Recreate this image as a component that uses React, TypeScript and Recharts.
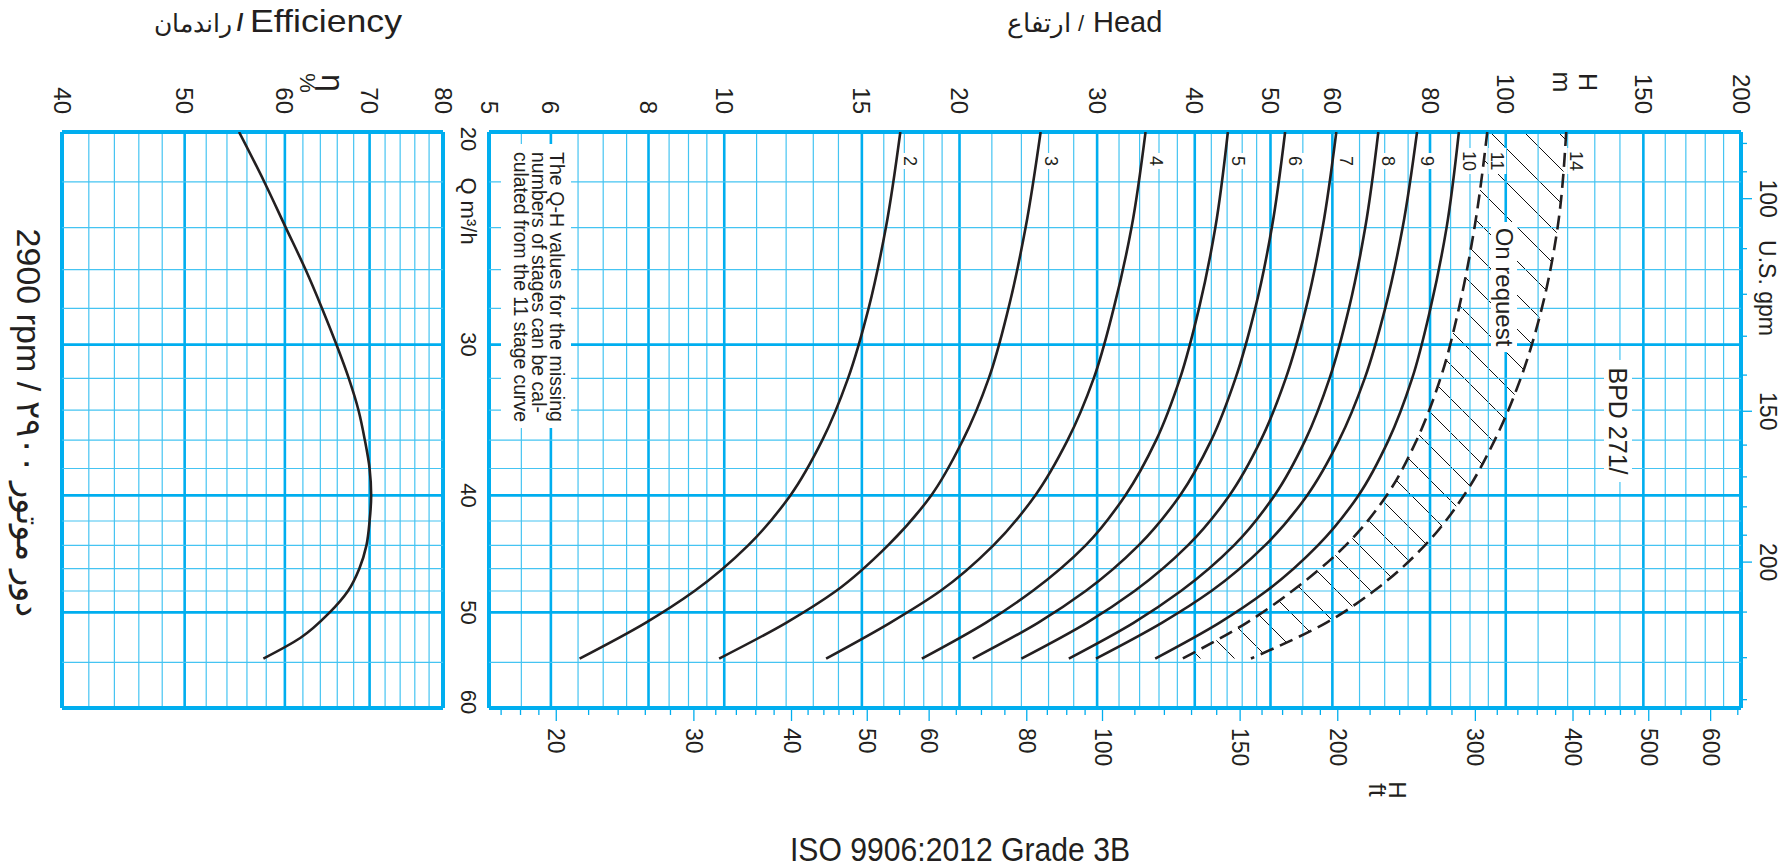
import React from 'react'
import { ComposedChart, Line, Area, XAxis, YAxis, ReferenceLine, LabelList } from 'recharts'

// Q in m3/h, read down the vertical (log) axis
const qPoints = [20, 24, 28, 32, 36, 40, 44, 48, 51, 54.6]

// head in m per number of stages at qPoints
const stage2 = [16.8, 16.1, 15.3, 14.4, 13.35, 12.15, 10.73, 9.16, 7.93, 6.53]
const stage3 = [25.4, 24.3, 23.1, 21.8, 20.2, 18.4, 16.2, 13.9, 12.0, 9.85]
const stage4 = [34.6, 33.2, 31.5, 29.7, 27.5, 25.0, 22.1, 18.9, 16.3, 13.5]
const stage5 = [44.1, 42.5, 40.5, 38.3, 35.7, 32.6, 29.0, 24.8, 21.6, 17.9]
const stage6 = [52.2, 50.2, 47.8, 45.1, 42.0, 38.3, 33.9, 29.0, 25.2, 20.8]
const stage7 = [60.7, 58.3, 55.5, 52.3, 48.6, 44.3, 39.2, 33.5, 29.1, 24.0]
const stage8 = [68.7, 66.1, 63.0, 59.5, 55.4, 50.6, 44.9, 38.4, 33.4, 27.6]
const stage9 = [77.0, 73.8, 70.1, 66.0, 61.2, 55.7, 49.2, 42.0, 36.3, 29.9]
const stage10 = [87.1, 84.0, 80.1, 75.9, 70.8, 64.8, 57.5, 49.4, 43.0, 35.6]
const stage11 = [94.7, 91.2, 87.1, 82.5, 76.9, 70.4, 62.4, 53.3, 46.6, 38.6]
const stage14 = [119.5, 116.5, 111.2, 104.5, 96.8, 88.4, 78.8, 67.8, 58.9, 47.2]

// efficiency curve
const effQ = [20, 22, 24, 26, 28, 30, 32, 34, 36, 38, 40, 42, 44, 46, 48, 50, 52.5, 54.6]
const effValues = [55.2, 57.8, 60.1, 62.3, 64.2, 65.9, 67.4, 68.6, 69.4, 70.0, 70.2, 70.0, 69.6, 68.7, 67.3, 65.1, 61.7, 57.7]

// axes and grid
const headTicks = [5, 6, 8, 10, 15, 20, 30, 40, 50, 60, 80, 100, 150, 200]
const headMajor = [6, 8, 10, 15, 20, 30, 40, 50, 60, 80, 100, 150]
const headMinor = [5.5, 6.5, 7, 7.5, 8.5, 9, 9.5, 11, 12, 13, 14, 16, 17, 18, 19, 22, 24, 26, 28, 32, 34, 36, 38, 42, 44, 46, 48, 55, 65, 70, 75, 85, 90, 95, 110, 120, 130, 140, 160, 170, 180, 190]
const qTicks = [20, 30, 40, 50, 60]
const qMajor = [30, 40, 50]
const qMinor = [22, 24, 26, 28, 32, 34, 36, 38, 42, 44, 46, 48, 55]
const effTicks = [40, 50, 60, 70, 80]
const effMajor = [50, 60, 70]
const effMinor = [42, 44, 46, 48, 52, 54, 56, 58, 62, 64, 66, 68, 72, 74, 76, 78]
const ftLabels = [20, 30, 40, 50, 60, 80, 100, 150, 200, 300, 400, 500, 600]
const ftMinor = [17, 18, 19, 22, 24, 26, 28, 32, 34, 36, 38, 42, 44, 46, 48, 55, 65, 70, 75, 85, 90, 95, 110, 120, 130, 140, 160, 170, 180, 190, 220, 240, 260, 280, 320, 340, 360, 380, 420, 440, 460, 480, 550, 650]
const gpmLabels = [100, 150, 200]
const gpmMinor = [90, 95, 110, 120, 130, 140, 160, 170, 180, 190, 220, 240, 260]

const M_TO_FT = 3.28084
const M3H_TO_GPM = 4.40287

const INK = '#231f20'
const CYAN = '#00aeef'
const CYAN_LIGHT = '#45c4f2'
const FONT = '"Liberation Sans", Arial, Helvetica, sans-serif'

const stages = [
  { key: 's2', name: '2', values: stage2, dashed: false },
  { key: 's3', name: '3', values: stage3, dashed: false },
  { key: 's4', name: '4', values: stage4, dashed: false },
  { key: 's5', name: '5', values: stage5, dashed: false },
  { key: 's6', name: '6', values: stage6, dashed: false },
  { key: 's7', name: '7', values: stage7, dashed: false },
  { key: 's8', name: '8', values: stage8, dashed: false },
  { key: 's9', name: '9', values: stage9, dashed: false },
  { key: 's10', name: '10', values: stage10, dashed: false },
  { key: 's11', name: '11', values: stage11, dashed: true },
  { key: 's14', name: '14', values: stage14, dashed: true },
]

const headRows = qPoints.map((q, i) => {
  const row: any = { q, gpm: q * M3H_TO_GPM, band: [stage11[i], stage14[i]] }
  stages.forEach(s => { row[s.key] = s.values[i] })
  return row
})
const effRows = effQ.map((q, i) => ({ q, eff: effValues[i] }))

const rot = (x: number, y: number) => `translate(${x},${y}) rotate(90)`

const TopTick = ({ x, y, payload }: any) => (
  <text transform={rot(x, y)} textAnchor="end" dominantBaseline="central" fontSize={24} fontFamily={FONT} fill={INK}>
    {payload.value}
  </text>
)

const QTick = ({ x, y, payload }: any) => {
  const dy = payload.value === 20 ? 7 : payload.value === 60 ? -6 : 0
  return (
    <text transform={rot(x, y + dy)} textAnchor="middle" dominantBaseline="central" fontSize={22} fontFamily={FONT} fill={INK}>
      {payload.value}
    </text>
  )
}

const FtTick = ({ x, y, payload }: any) => {
  const major = ftLabels.includes(payload.value)
  return (
    <g>
      <line x1={x} x2={x} y1={y} y2={y + (major ? 13 : 7)} stroke={CYAN} strokeWidth={1.3} />
      {major && (
        <text transform={rot(x, y + 20)} textAnchor="start" dominantBaseline="central" fontSize={23} fontFamily={FONT} fill={INK}>
          {payload.value}
        </text>
      )}
    </g>
  )
}

const GpmTick = ({ x, y, payload }: any) => {
  const major = gpmLabels.includes(payload.value)
  return (
    <g>
      <line x1={x} x2={x + (major ? 11 : 6)} y1={y} y2={y} stroke={CYAN} strokeWidth={1.3} />
      {major && (
        <text transform={rot(x + 27, y)} textAnchor="middle" dominantBaseline="central" fontSize={23} fontFamily={FONT} fill={INK}>
          {payload.value}
        </text>
      )}
    </g>
  )
}

const stageLabel = (name: string) => (props: any) => {
  if (props.index !== 0) return null
  const x = Number(props.x) + 10
  const y = Number(props.y) + 29
  const len = 10 * name.length
  return (
    <g>
      <rect x={x - 9} y={y - len / 2 - 3} width={18} height={len + 6} fill="#fff" />
      <text transform={rot(x, y)} textAnchor="middle" dominantBaseline="central" fontSize={18} fontFamily={FONT} fill={INK}>
        {name}
      </text>
    </g>
  )
}

const gridX = (minor: number[], major: number[], ends: number[]) => [
  ...minor.map(v => <ReferenceLine key={'xm' + v} x={v} stroke={CYAN_LIGHT} strokeWidth={1.2} />),
  ...major.map(v => <ReferenceLine key={'xM' + v} x={v} stroke={CYAN} strokeWidth={2.6} />),
  ...ends.map(v => <ReferenceLine key={'xE' + v} x={v} stroke={CYAN} strokeWidth={4} />),
]
const gridY = [
  ...qMinor.map(v => <ReferenceLine key={'ym' + v} y={v} stroke={CYAN_LIGHT} strokeWidth={1.2} />),
  ...qMajor.map(v => <ReferenceLine key={'yM' + v} y={v} stroke={CYAN} strokeWidth={2.6} />),
  ...[20, 60].map(v => <ReferenceLine key={'yE' + v} y={v} stroke={CYAN} strokeWidth={4} />),
]

const rtext = (x: number, y: number, s: string, size: number, anchor = 'middle', len?: number) => (
  <text transform={rot(x, y)} textAnchor={anchor} dominantBaseline="central" fontSize={size} fontFamily={FONT} fill={INK}
    textLength={len} lengthAdjust={len ? 'spacingAndGlyphs' : undefined}>
    {s}
  </text>
)

export default function App() {
  return (
    <div style={{ position: 'absolute', left: 0, top: 0, width: 1790, height: 868, background: '#fff', overflow: 'hidden' }}>
      <svg width={0} height={0} style={{ position: 'absolute' }}>
        <defs>
          <pattern id="hatch" patternUnits="userSpaceOnUse" width={34} height={34}>
            <path d="M0,0 L34,34 M-17,17 L17,51 M17,-17 L51,17" stroke="#111" strokeWidth={1} />
          </pattern>
        </defs>
      </svg>

      {/* efficiency panel */}
      <div style={{ position: 'absolute', left: 0, top: 0 }}>
        <ComposedChart width={460} height={868} data={effRows} layout="vertical" margin={{ top: 92, right: 17, bottom: 160, left: 62 }}>
          <XAxis type="number" scale="log" domain={[40, 80]} allowDataOverflow orientation="top" ticks={effTicks} interval={0}
            tick={<TopTick />} tickLine={false} axisLine={false} tickSize={0} tickMargin={18} height={40} />
          <YAxis type="number" dataKey="q" scale="log" domain={[20, 60]} allowDataOverflow hide width={0} />
          {gridX(effMinor, effMajor, [40, 80])}
          {gridY}
          <Line dataKey="eff" type="monotone" stroke={INK} strokeWidth={2.6} dot={false} activeDot={false} isAnimationActive={false} />
        </ComposedChart>
      </div>

      {/* Q-H panel */}
      <div style={{ position: 'absolute', left: 440, top: 0 }}>
        <ComposedChart width={1350} height={868} data={headRows} layout="vertical" margin={{ top: 92, right: 0, bottom: 90, left: 0 }}>
          <XAxis type="number" scale="log" domain={[5, 200]} allowDataOverflow orientation="top" ticks={headTicks} interval={0}
            tick={<TopTick />} tickLine={false} axisLine={false} tickSize={0} tickMargin={18} height={40} />
          <XAxis xAxisId="ft" type="number" scale="log" domain={[5 * M_TO_FT, 200 * M_TO_FT]} allowDataOverflow orientation="bottom"
            ticks={[...ftLabels, ...ftMinor].sort((a, b) => a - b)} interval={0} tick={<FtTick />} tickLine={false} axisLine={false}
            tickSize={0} tickMargin={0} height={70} />
          <YAxis type="number" dataKey="q" scale="log" domain={[20, 60]} allowDataOverflow ticks={qTicks} interval={0}
            tick={<QTick />} tickLine={false} axisLine={false} tickSize={0} tickMargin={21} width={49} />
          <YAxis yAxisId="gpm" dataKey="gpm" orientation="right" type="number" scale="log" domain={[20 * M3H_TO_GPM, 60 * M3H_TO_GPM]} allowDataOverflow
            ticks={[...gpmLabels, ...gpmMinor].sort((a, b) => a - b)} interval={0} tick={<GpmTick />} tickLine={false} axisLine={false}
            tickSize={0} tickMargin={0} width={49} />
          {gridX(headMinor, headMajor, [5, 200])}
          {gridY}
          <Area dataKey="band" type="monotone" stroke="none" fill="url(#hatch)" fillOpacity={1} isAnimationActive={false} activeDot={false} />
          {stages.map(s => (
            <Line key={s.key} dataKey={s.key} type="monotone" stroke={INK} strokeWidth={2.6}
              strokeDasharray={s.dashed ? '14 7' : undefined} dot={false} activeDot={false} isAnimationActive={false}>
              <LabelList dataKey={s.key} content={stageLabel(s.name)} />
            </Line>
          ))}
        </ComposedChart>
      </div>

      {/* titles and notes */}
      <svg width={1790} height={868} style={{ position: 'absolute', left: 0, top: 0, pointerEvents: 'none' }}>
        <text x={232} y={32} textAnchor="end" fontSize={25} fontFamily={FONT} fill={INK}>راندمان</text>
        <text x={240} y={31} textAnchor="middle" fontSize={24} fontWeight="bold" fontFamily={FONT} fill={INK}>/</text>
        <text x={250} y={32} fontSize={32} textLength={152} lengthAdjust="spacingAndGlyphs" fontFamily={FONT} fill={INK}>Efficiency</text>

        <text x={1071} y={32} textAnchor="end" fontSize={26} fontFamily={FONT} fill={INK}>ارتفاع</text>
        <text x={1081} y={31} textAnchor="middle" fontSize={22} fontFamily={FONT} fill={INK}>/</text>
        <text x={1093} y={32} fontSize={29} fontFamily={FONT} fill={INK}>Head</text>

        {rtext(333, 83, 'η', 32)}
        {rtext(307, 83, '%', 22)}
        {rtext(1588, 82, 'H', 25)}
        {rtext(1562, 82, 'm', 25)}
        {rtext(1397, 790, 'H', 24)}
        {rtext(1377, 790, 'ft', 24)}
        {rtext(468, 211, 'Q m³/h', 22)}
        {rtext(1767, 288, 'U.S. gpm', 23)}
        {rtext(29, 423, '2900 rpm / دور موتور ۲۹۰۰', 34)}

        <rect x={501} y={144} width={70} height={284} fill="#fff" />
        {rtext(557, 152, 'The Q-H values for the missing', 20, 'start', 270)}
        {rtext(539, 152, 'numbers of stages can be cal-', 20, 'start', 261)}
        {rtext(521, 152, 'culated from the 11 stage curve', 20, 'start', 270)}

        <rect x={1491} y={222} width={26} height={130} fill="#fff" />
        {rtext(1504, 287, 'On request', 24)}
        <rect x={1604} y={360} width={28} height={122} fill="#fff" />
        {rtext(1618, 421, 'BPD 271/', 25)}

        <text x={960} y={861} textAnchor="middle" fontSize={34} textLength={340} lengthAdjust="spacingAndGlyphs" fontFamily={FONT} fill={INK}>
          ISO 9906:2012 Grade 3B
        </text>
      </svg>
    </div>
  )
}
